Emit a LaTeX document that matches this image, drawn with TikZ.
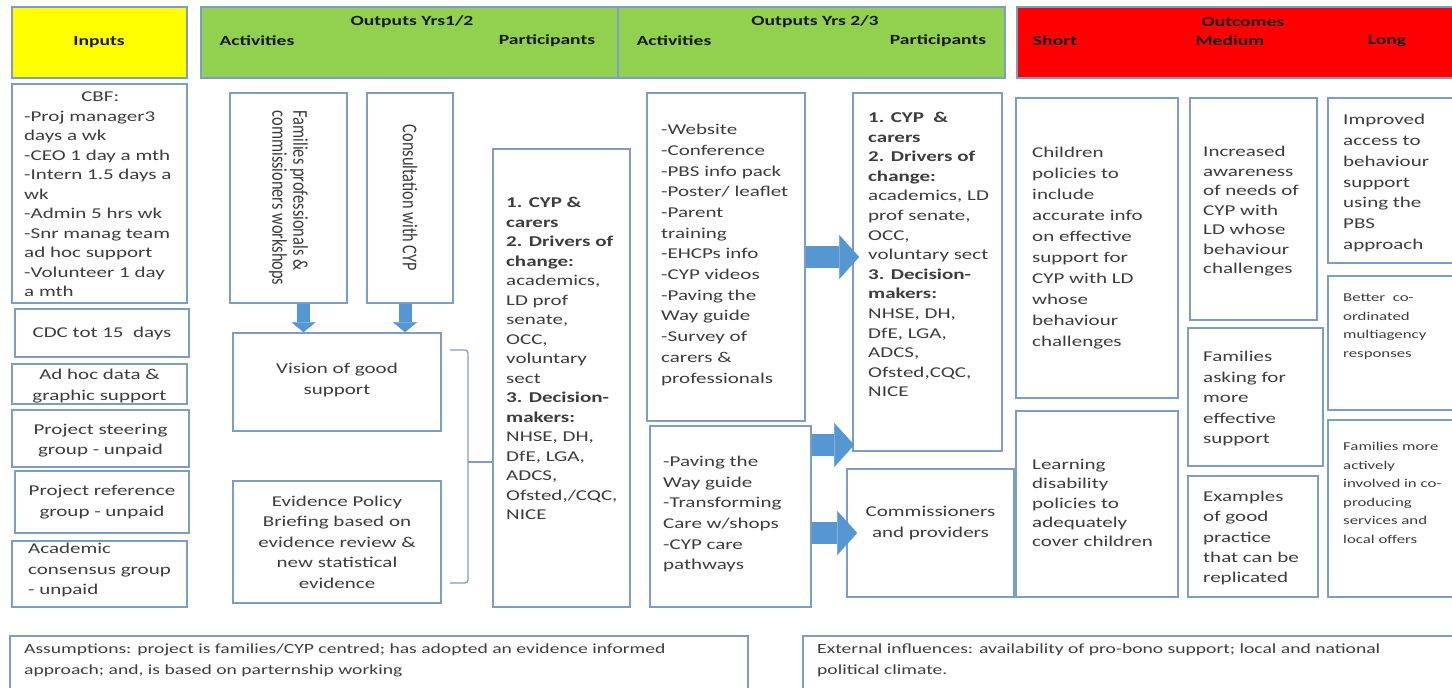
\documentclass[tikz,border=0pt]{standalone}
\usepackage{fontspec}
\setmainfont{Carlito}[FakeStretch=1.4]
\newfontfamily\rotfont{Carlito}[FakeStretch=0.78]
\usetikzlibrary{positioning,fit,arrows.meta}

\definecolor{boxc}{RGB}{126,157,196}
\definecolor{hdrgreen}{RGB}{146,208,80}
\definecolor{hdryellow}{RGB}{255,255,0}
\definecolor{hdrred}{RGB}{255,0,0}
\definecolor{arrowc}{RGB}{86,150,210}
\definecolor{txtc}{RGB}{60,60,60}

\tikzset{
  box/.style={draw=boxc, line width=1.6pt, inner sep=0pt},
  hdr/.style={box, fill=#1},
  hdrtext/.style={font=\bfseries\fontsize{14}{18}\selectfont, text=black!90, inner sep=0pt},
  txt/.style={font=\fontsize{15}{19.5}\selectfont, text=txtc, inner sep=0pt, align=left},
  ctxt/.style={txt, align=center, font=\fontsize{15}{20.5}\selectfont},
  smalltxt/.style={txt, font=\fontsize{12}{18.5}\selectfont},
  rottxt/.style={txt, font=\rotfont\fontsize{21}{21}\selectfont, rotate=-90},
  bigarrow/.style={draw=arrowc, line width=22pt, -{Triangle[length=20pt,width=44pt,line width=0.1pt]}},
  downarrow/.style={draw=arrowc, line width=13pt, -{Triangle[length=10pt,width=24pt,line width=0.1pt]}},
  bracket/.style={draw=boxc, line width=1.3pt, rounded corners=3pt},
}

\begin{document}
\begin{tikzpicture}[x=1pt,y=-1pt]
  \useasboundingbox (0,0) rectangle (1452,688);

  % Header row
  \node[hdr=hdryellow, fit={(12,7) (187,78)}] (inputs) {};
  \node[hdr=hdrgreen, fit={(201,7) (618,78)}] (outa) {};
  \node[hdr=hdrgreen, fit={(618,7) (1005,78)}] (outb) {};
  \node[hdr=hdrred, fit={(1017,7) (1460,78)}] (outc) {};
  \node[hdrtext] (inputstitle) at (99,42) {Inputs};
  \node[hdrtext] (outatitle) at (412,22) {Outputs Yrs1/2};
  \node[hdrtext] (outaact) at (257,41) {Activities};
  \node[hdrtext] (outapart) at (547,41) {Participants};
  \node[hdrtext] (outbtitle) at (815,22) {Outputs Yrs 2/3};
  \node[hdrtext] (outbact) at (674,41) {Activities};
  \node[hdrtext] (outbpart) at (938,41) {Participants};
  \node[hdrtext] (outctitle) at (1243,22) {Outcomes};
  \node[hdrtext] (outcshort) at (1055,41) {Short};
  \node[hdrtext] (outcmed) at (1230,41) {Medium};
  \node[hdrtext] (outclong) at (1387,41) {Long};

  % Inputs
  \node[box, fit={(12,84) (187,303)}] (cbf) {};
  \node[txt, anchor=north west] (cbftext) at (24,92)
    {\makebox[152pt]{CBF:}\\-Proj manager3\\days a wk\\-CEO 1 day a mth\\-Intern 1.5 days a\\wk\\-Admin 5 hrs wk\\-Snr manag team\\ad hoc support\\-Volunteer 1 day\\a mth};
  \node[box, fit={(15,309) (189,357)}] (cdc) {};
  \node[ctxt] (cdctext) at (cdc.center) {CDC tot 15\ \ days};
  \node[box, fit={(12,364) (187,404)}] (adhoc) {};
  \node[ctxt] (adhoctext) at ([yshift=-2pt]adhoc.center) {Ad hoc data \&\\graphic support};
  \node[box, fit={(12,410) (189,467)}] (steer) {};
  \node[ctxt] (steertext) at ([yshift=-2pt]steer.center) {Project steering\\group - unpaid};
  \node[box, fit={(15,471) (189,533)}] (refgrp) {};
  \node[ctxt] (refgrptext) at (refgrp.center) {Project reference\\group - unpaid};
  \node[box, fit={(12,541) (187,607)}] (acad) {};
  \node[txt, font=\fontsize{15}{20.5}\selectfont] (acadtext) at ([yshift=4pt]acad.center) {Academic\\consensus group\\- unpaid};

  % Outputs years 1 and 2
  \node[box, fit={(230,93) (347,303)}] (fam) {};
  \node[rottxt] (famtext) at (fam.center) {Families professionals \&\\commissioners workshops};
  \node[box, fit={(367,93) (453,303)}] (consult) {};
  \node[rottxt] (consulttext) at (consult.center) {Consultation with CYP};
  \node[box, fit={(233,333) (441,431)}] (vision) {};
  \node[ctxt] (visiontext) at ([yshift=2pt]vision.center) {Vision of good\\support};
  \node[box, fit={(233,481) (441,603)}] (evidence) {};
  \node[ctxt] (evidencetext) at (evidence.center) {Evidence Policy\\Briefing based on\\evidence review \&\\new statistical\\evidence};
  \draw[downarrow] ([xshift=15pt]fam.south) -- ([xshift=15pt]fam.south |- vision.north);
  \draw[downarrow] ([xshift=-5pt]consult.south) -- ([xshift=-5pt]consult.south |- vision.north);

  \node[box, fit={(493,149) (630,607)}] (parta) {};
  \node[txt, anchor=north west] (partatext) at (506,197)
    {\textbf{1. CYP \&}\\\textbf{carers}\\\textbf{2. Drivers of}\\\textbf{change:}\\academics,\\LD prof\\senate,\\OCC,\\voluntary\\sect\\\textbf{3. Decision-}\\\textbf{makers:}\\NHSE, DH,\\DfE, LGA,\\ADCS,\\Ofsted,/CQC,\\NICE};

  % Brace into participants
  \coordinate (bracetop) at (450,350);
  \coordinate (bracebot) at (450,583);
  \coordinate (bracetip) at (468,462);
  \draw[bracket] (bracetop) -| (bracetip) |- (bracebot);
  \draw[bracket] (bracetip) -- (bracetip -| parta.west);

  % Outputs years 2 and 3
  \node[box, fit={(647,93) (805,421)}] (acta) {};
  \node[txt, anchor=north west, font=\fontsize{15}{20.7}\selectfont] (actatext) at (661,124)
    {-Website\\-Conference\\-PBS info pack\\-Poster/ leaflet\\-Parent\\training\\-EHCPs info\\-CYP videos\\-Paving the\\Way guide\\-Survey of\\carers \&\\professionals};
  \node[box, fit={(650,426) (811,607)}] (actb) {};
  \node[txt, anchor=north west, font=\fontsize{15}{20.6}\selectfont] (actbtext) at (663,456)
    {-Paving the\\Way guide\\-Transforming\\Care w/shops\\-CYP care\\pathways};

  \node[box, fit={(853,93) (1002,451)}] (partb) {};
  \node[txt, anchor=north west, font=\fontsize{15}{19.6}\selectfont] (partbtext) at (868,112)
    {\textbf{1. CYP\ \ \&}\\\textbf{carers}\\\textbf{2. Drivers of}\\\textbf{change:}\\academics, LD\\prof senate,\\OCC,\\voluntary sect\\\textbf{3. Decision-}\\\textbf{makers:}\\NHSE, DH,\\DfE, LGA,\\ADCS,\\Ofsted,CQC,\\NICE};
  \node[box, fit={(847,469) (1014,597)}] (comm) {};
  \node[ctxt] (commtext) at ([yshift=10pt]comm.center) {Commissioners\\and providers};

  \draw[bigarrow, shorten >=-7pt] (acta.east) -- (acta.east -| partb.west);
  \draw[bigarrow, shorten >=-2pt] (actb.east |- 0,445) -- (partb.west |- 0,445);
  \draw[bigarrow, shorten >=-11pt] (actb.east |- comm.west) -- (comm.west);

  % Outcomes short
  \node[box, fit={(1016,98) (1178,398)}] (chpol) {};
  \node[txt, anchor=north west, font=\fontsize{15}{21}\selectfont] (chpoltext) at (1032,147)
    {Children\\policies to\\include\\accurate info\\on effective\\support for\\CYP with LD\\whose\\behaviour\\challenges};
  \node[box, fit={(1016,411) (1178,597)}] (ldpol) {};
  \node[txt, anchor=north west, font=\fontsize{15}{19.3}\selectfont] (ldpoltext) at (1032,459)
    {Learning\\disability\\policies to\\adequately\\cover children};

  % Outcomes medium
  \node[box, fit={(1190,98) (1317,320)}] (aware) {};
  \node[txt, anchor=north west] (awaretext) at (1203,146)
    {Increased\\awareness\\of needs of\\CYP with\\LD whose\\behaviour\\challenges};
  \node[box, fit={(1188,328) (1323,466)}] (famask) {};
  \node[txt, anchor=north west, font=\fontsize{15}{20.5}\selectfont] (famasktext) at (1203,351)
    {Families\\asking for\\more\\effective\\support};
  \node[box, fit={(1188,476) (1318,597)}] (examples) {};
  \node[txt, anchor=north west, font=\fontsize{15}{20.3}\selectfont] (examplestext) at (1203,491)
    {Examples\\of good\\practice\\that can be\\replicated};

  % Outcomes long
  \node[box, fit={(1328,98) (1460,263)}] (access) {};
  \node[txt, anchor=north west, font=\fontsize{15}{20.8}\selectfont] (accesstext) at (1343,114)
    {Improved\\access to\\behaviour\\support\\using the\\PBS\\approach};
  \node[box, fit={(1328,276) (1460,410)}] (coord) {};
  \node[smalltxt, anchor=north west] (coordtext) at (1343,294)
    {Better\ \ co-\\ordinated\\multiagency\\responses};
  \node[box, fit={(1328,420) (1460,597)}] (involve) {};
  \node[smalltxt, anchor=north west] (involvetext) at (1343,442)
    {Families more\\actively\\involved in co-\\producing\\services and\\local offers};

  % Assumptions and external influences
  \node[box, fit={(10,636) (748,700)}] (assume) {};
  \node[txt, anchor=north west, font=\fontsize{14}{21}\selectfont] (assumetext) at (24,644)
    {Assumptions: project is families/CYP centred; has adopted an evidence informed\\approach; and, is based on parternship working};
  \node[box, fit={(803,636) (1460,700)}] (extern) {};
  \node[txt, anchor=north west, font=\fontsize{14}{21}\selectfont] (externtext) at (817,644)
    {External influences: availability of pro-bono support; local and national\\political climate.};
\end{tikzpicture}
\end{document}
